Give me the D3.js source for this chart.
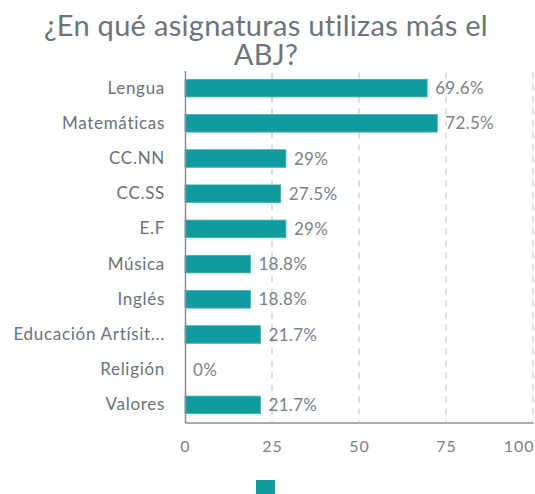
<!DOCTYPE html>
<html>
<head>
<meta charset="utf-8">
<script src="https://cdn.jsdelivr.net/npm/d3@7"></script>
<style>
  body { margin: 0; background: #fff; }
  text { font-family: Lato, "Open Sans", sans-serif; }
</style>
</head>
<body>
<div id="chart"></div>
<script>
// data
var categories = ["Lengua", "Matemáticas", "CC.NN", "CC.SS", "E.F", "Música", "Inglés", "Educación Artísit...", "Religión", "Valores"];
var values = [69.6, 72.5, 29, 27.5, 29, 18.8, 18.8, 21.7, 0, 21.7];
var valueLabels = ["69.6%", "72.5%", "29%", "27.5%", "29%", "18.8%", "18.8%", "21.7%", "0%", "21.7%"];
var xTicks = [0, 25, 50, 75, 100];
var titleLines = ["¿En qué asignaturas utilizas más el", "ABJ?"];

var W = 535, H = 494;
var margin = {top: 70.5, right: 2, bottom: 71.5, left: 185},
    width = W - margin.left - margin.right,
    height = H - margin.top - margin.bottom;

var svg = d3.select("#chart")
  .append("svg")
    .attr("width", W)
    .attr("height", H);

// title
svg.selectAll(".title")
  .data(titleLines)
  .enter()
  .append("text")
    .attr("x", 266)
    .attr("y", function(d, i) { return 36 + i * 29; })
    .attr("text-anchor", "middle")
    .style("font-size", "29px")
    .style("letter-spacing", "0.3px")
    .style("fill", "#6b747b")
    .text(function(d) { return d; });

var g = svg.append("g")
  .attr("transform", "translate(" + margin.left + "," + margin.top + ")");

var x = d3.scaleLinear()
  .domain([0, 100])
  .range([0, width]);

var y = d3.scaleBand()
  .domain(categories)
  .range([0, height])
  .paddingInner(0.5)
  .paddingOuter(0.25);

// dashed grid
g.selectAll(".grid")
  .data(xTicks.slice(1))
  .enter()
  .append("line")
    .attr("x1", function(d) { return x(d); })
    .attr("x2", function(d) { return x(d); })
    .attr("y1", 2)
    .attr("y2", height)
    .attr("stroke", "#bbb")
    .attr("stroke-dasharray", "6,6");

// bars
g.selectAll(".bar")
  .data(values)
  .enter()
  .append("rect")
    .attr("x", x(0))
    .attr("y", function(d, i) { return y(categories[i]); })
    .attr("width", function(d) { return x(d) - x(0); })
    .attr("height", y.bandwidth())
    .attr("fill", "#129b9e")
    .attr("stroke", "#3fb3b5")
    .attr("stroke-width", 0.8);

// value labels
g.selectAll(".vlabel")
  .data(values)
  .enter()
  .append("text")
    .attr("x", function(d) { return x(d) + 8; })
    .attr("y", function(d, i) { return y(categories[i]) + y.bandwidth() / 2; })
    .attr("dy", "0.36em")
    .style("font-size", "17px")
    .style("letter-spacing", "0.3px")
    .style("fill", "#7a8288")
    .text(function(d, i) { return valueLabels[i]; });

// y axis
var yAxis = g.append("g")
  .call(d3.axisLeft(y).tickSize(0).tickPadding(20));
yAxis.select(".domain").attr("stroke", "#8a8f94").attr("stroke-width", 1.5);
yAxis.selectAll("text")
  .style("font-size", "17px")
  .style("letter-spacing", "0.7px")
  .style("fill", "#68727a")
  .style("font-family", "Lato, sans-serif");

// x axis
var xAxis = g.append("g")
  .attr("transform", "translate(0," + height + ")")
  .call(d3.axisBottom(x).tickValues(xTicks).tickSize(0).tickPadding(18));
xAxis.select(".domain").attr("stroke", "#8a8f94").attr("stroke-width", 1.5);
xAxis.selectAll("text")
  .style("font-size", "16px")
  .style("letter-spacing", "1px")
  .style("fill", "#7a8288")
  .style("font-family", "Lato, sans-serif");
xAxis.selectAll(".tick")
  .filter(function(d) { return d === 100; })
  .select("text")
    .attr("text-anchor", "end")
    .attr("x", 1);

// legend swatch
svg.append("rect")
  .attr("x", 256)
  .attr("y", 480)
  .attr("width", 19)
  .attr("height", 19)
  .attr("fill", "#129b9e");
</script>
</body>
</html>
